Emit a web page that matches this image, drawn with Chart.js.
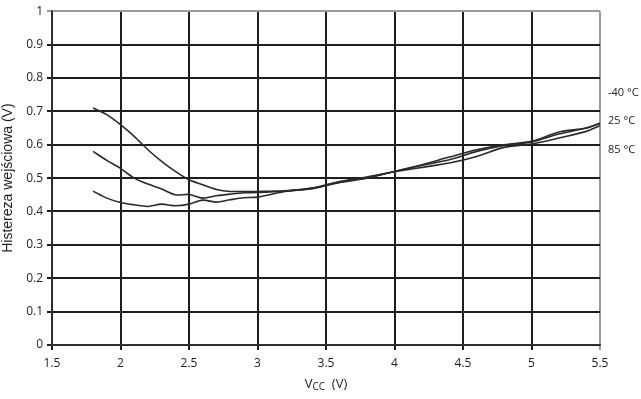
<!DOCTYPE html>
<html>
<head>
<meta charset="utf-8">
<script src="https://cdn.jsdelivr.net/npm/chart.js@4.4.1/dist/chart.umd.min.js"></script>
<style>
    html, body { margin: 0; padding: 0; background: #ffffff; }
    #wrap { width: 641px; height: 399px; position: relative; }
</style>
</head>
<body>
<div id="wrap"><canvas id="chart"></canvas></div>
<script>
// Supply voltage (V)
const vcc = [1.8, 1.9, 2.0, 2.1, 2.2, 2.3, 2.4, 2.5, 2.6, 2.7, 2.8, 2.9, 3.0, 3.2, 3.4, 3.6, 3.8, 4.0, 4.2, 4.4, 4.6, 4.8, 5.0, 5.2, 5.4, 5.5];

// Input hysteresis (V) per temperature
const hystMinus40 = [0.71, 0.69, 0.66, 0.625, 0.585, 0.55, 0.52, 0.495, 0.48, 0.466, 0.46, 0.46, 0.46, 0.462, 0.47, 0.49, 0.502, 0.52, 0.54, 0.563, 0.585, 0.6, 0.61, 0.638, 0.65, 0.665];
const hyst25 = [0.58, 0.553, 0.529, 0.5, 0.482, 0.467, 0.45, 0.451, 0.44, 0.447, 0.452, 0.456, 0.457, 0.461, 0.468, 0.487, 0.5, 0.52, 0.538, 0.555, 0.58, 0.598, 0.608, 0.632, 0.65, 0.663];
const hyst85 = [0.461, 0.44, 0.427, 0.42, 0.415, 0.422, 0.417, 0.422, 0.434, 0.428, 0.435, 0.441, 0.443, 0.46, 0.47, 0.488, 0.503, 0.519, 0.532, 0.545, 0.565, 0.592, 0.602, 0.62, 0.64, 0.657];

const seriesLabels = ['-40 °C', '25 °C', '85 °C'];
// y value where each side label sits
const labelLevels = [0.755, 0.672, 0.586];

const xTicks = [1.5, 2, 2.5, 3, 3.5, 4, 4.5, 5, 5.5];

const toPoints = ys => vcc.map((x, i) => ({ x: x, y: ys[i] }));

const lineStyle = {
    borderColor: '#2a2a2a',
    borderWidth: 1.6,
    pointRadius: 0,
    tension: 0.3,
    fill: false
};

// Side labels and subscript axis title
const extrasPlugin = {
    id: 'extras',
    afterDraw(chart) {
        const ctx = chart.ctx;
        const area = chart.chartArea;
        const yScale = chart.scales.y;
        ctx.save();
        ctx.fillStyle = '#222';
        ctx.textBaseline = 'middle';
        ctx.textAlign = 'left';
        ctx.font = '11px "Open Sans", sans-serif';
        seriesLabels.forEach((lbl, i) => {
            ctx.fillText(lbl, area.right + 8, yScale.getPixelForValue(labelLevels[i]));
        });

        // V_CC (V)
        const cx = (area.left + area.right) / 2;
        const y = 384;
        ctx.font = '13px "Open Sans", sans-serif';
        const wV = ctx.measureText('V').width;
        ctx.font = '10px "Open Sans", sans-serif';
        const wCC = ctx.measureText('CC').width;
        ctx.font = '13px "Open Sans", sans-serif';
        const wRest = ctx.measureText('  (V)').width;
        let x = cx - (wV + wCC + wRest) / 2;
        ctx.fillText('V', x, y);
        x += wV;
        ctx.font = '10px "Open Sans", sans-serif';
        ctx.fillText('CC', x, y + 3);
        x += wCC;
        ctx.font = '13px "Open Sans", sans-serif';
        ctx.fillText('  (V)', x, y);
        ctx.restore();
    }
};

new Chart(document.getElementById('chart'), {
    type: 'line',
    data: {
        datasets: [
            Object.assign({ label: seriesLabels[0], data: toPoints(hystMinus40) }, lineStyle),
            Object.assign({ label: seriesLabels[1], data: toPoints(hyst25) }, lineStyle),
            Object.assign({ label: seriesLabels[2], data: toPoints(hyst85) }, lineStyle)
        ]
    },
    options: {
        responsive: true,
        maintainAspectRatio: false,
        animation: false,
        layout: { padding: { top: 9, right: 41, left: 0, bottom: 0 } },
        plugins: {
            legend: { display: false },
            tooltip: { enabled: false }
        },
        scales: {
            x: {
                type: 'linear',
                min: 1.5,
                max: 5.5,
                afterBuildTicks: axis => { axis.ticks = xTicks.map(v => ({ value: v })); },
                afterFit: axis => { axis.height = 54; },
                grid: {
                    color: ctx => (ctx.tick && ctx.tick.value === 5.5) ? '#9a9a9a' : '#1e1e1e',
                    lineWidth: 2,
                    tickLength: 5,
                    drawTicks: true
                },
                border: { display: true, color: '#333', width: 1.5 },
                ticks: {
                    color: '#1e1e1e',
                    padding: 6,
                    font: { family: '"Open Sans", sans-serif', size: 12 },
                    callback: v => String(v)
                }
            },
            y: {
                min: 0,
                max: 1,
                afterFit: axis => { axis.width = 52; },
                grid: {
                    color: ctx => (ctx.tick && ctx.tick.value === 1) ? '#9a9a9a' : '#1e1e1e',
                    lineWidth: 2,
                    tickLength: 5
                },
                border: { display: true, color: '#333', width: 1.5 },
                ticks: {
                    stepSize: 0.1,
                    color: '#1e1e1e',
                    padding: 4,
                    font: { family: '"Open Sans", sans-serif', size: 12 },
                    callback: v => String(Math.round(v * 10) / 10)
                },
                title: {
                    display: true,
                    text: 'Histereza wejściowa (V)',
                    color: '#1e1e1e',
                    padding: { top: 0, bottom: 0 },
                    font: { family: '"Liberation Sans", Arial, sans-serif', size: 14 }
                }
            }
        }
    },
    plugins: [extrasPlugin]
});
</script>
</body>
</html>
